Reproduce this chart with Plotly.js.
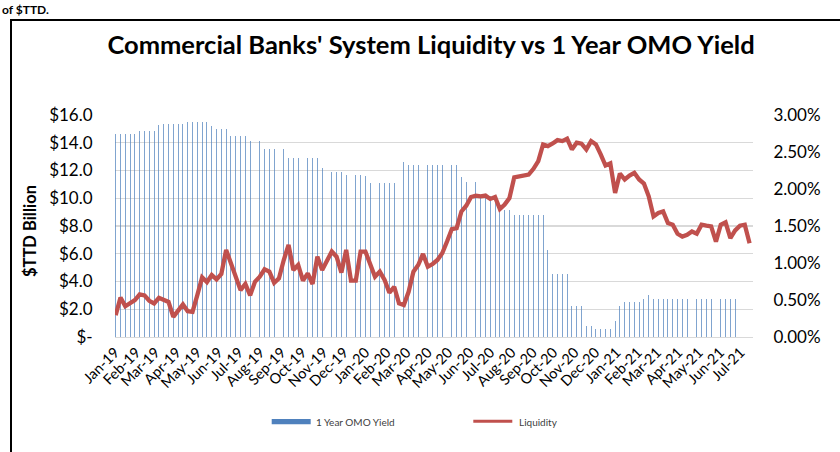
<!DOCTYPE html>
<html>
<head>
<meta charset="utf-8">
<script src="https://cdn.plot.ly/plotly-3.0.1.min.js"></script>
<style>html,body{margin:0;padding:0;background:#fff;}#chart{width:840px;height:452px;}</style>
</head>
<body>
<div id="chart"></div>
<script>
// ---- Data (weekly observations, first week 2019-01-02) ----
const firstWeek = '2019-01-02';

// 1 Year OMO Yield (%), right axis
const omoYield = [
  2.75,2.75,2.75,2.75,2.75, 2.78,2.78,2.78,2.78, 2.86,
  2.88,2.88,2.88,2.88,2.88, 2.90,2.90,2.90,2.90,2.90,
  2.85,2.81,2.81,2.81, 2.71,2.71,2.71,2.71, 2.65,2.65,
  2.65,2.54,2.54,2.54,2.54,2.54, 2.42,2.42,2.42,2.42,
  2.42,2.42,2.42, 2.29,2.29, 2.23,2.23,2.23, 2.19,2.19,
  2.19,2.19, 2.17, 2.08,2.08,2.08,2.08,2.08,2.08, 2.26,
  2.36, 2.32,2.32,2.32,2.32,2.32,2.32,2.32,2.32,2.32,
  2.32,2.32, 2.16, 2.09,2.09,2.09, 1.90,1.90,1.90,1.90,
  1.72,1.72,1.72, 1.65,1.65,1.65,1.65,1.65,1.65,1.65,
  1.18, 0.85,0.85,0.85,0.85, 0.42,0.42,0.42, 0.15,0.15,
  0.11,0.11,0.11,0.11, 0.21, 0.42, 0.47,0.47,0.47,0.47,
  0.52, 0.57, 0.52,0.52,0.52,0.52,0.52,0.52,0.52,0.52,
  0.52,0.52,0.51,0.51,0.52,0.52,0.52,0.51,0.52,0.52,
  0.52
];

// Commercial banks' system liquidity ($TTD billion), left axis
const liquidity = [
  1.57,2.85,2.22,2.46,2.66,3.07,3.00,2.61,2.42,2.82,
  2.66,2.53,1.45,1.86,2.35,1.86,1.81,3.02,4.30,3.96,
  4.47,4.15,4.54,6.28,5.31,4.23,3.38,3.82,3.00,3.98,
  4.34,4.88,4.71,3.91,4.23,5.55,6.64,4.83,5.19,4.06,
  4.59,3.82,5.79,4.83,5.55,6.16,5.79,4.64,6.28,4.06,
  4.06,6.16,6.16,5.31,4.34,4.71,4.11,3.19,3.62,2.42,
  2.30,3.26,4.71,5.19,5.99,5.07,5.26,5.55,6.04,6.88,
  7.78,7.85,9.05,9.46,10.09,10.19,10.14,10.19,9.95,10.09,
  9.22,9.54,10.02,11.51,11.59,11.64,11.71,12.12,12.67,13.88,
  13.76,13.95,14.19,14.12,14.29,13.52,14.00,13.93,13.52,14.12,
  13.88,13.16,12.36,12.51,10.38,11.78,11.35,11.64,11.83,11.35,
  11.06,10.14,8.69,8.94,9.05,8.21,8.09,7.44,7.24,7.36,
  7.60,7.44,8.09,8.02,7.97,6.88,8.09,8.26,7.13,7.68,
  8.02,8.09,6.76
];

const leftTickVals = [0,2,4,6,8,10,12,14,16];
const leftTickText = ['$-','$2.0','$4.0','$6.0','$8.0','$10.0','$12.0','$14.0','$16.0'];
const rightTickVals = [0,0.5,1,1.5,2,2.5,3];
const rightTickText = ['0.00%','0.50%','1.00%','1.50%','2.00%','2.50%','3.00%'];

const seriesNames = ['1 Year OMO Yield','Liquidity'];
const chartTitle = "Commercial Banks' System Liquidity vs 1 Year OMO Yield";
const leftAxisTitle = '$TTD Billion';
const topFragment = 'of $TTD.';

// ---- build weekly dates ----
function weeklyDates(start, n){
  const out = [];
  const d0 = new Date(start + 'T00:00:00Z');
  for (let i = 0; i < n; i++){
    const d = new Date(d0.getTime() + i*7*86400000);
    out.push(d.toISOString().slice(0,10));
  }
  return out;
}
const weeks = weeklyDates(firstWeek, liquidity.length);
const omoWeeks = weeks.slice(0, omoYield.length);

const FONT = 'Lato, "Open Sans", "DejaVu Sans", sans-serif';
const DAY = 86400000;

const barTrace = {
  type:'bar', name: seriesNames[0], x: omoWeeks, y: omoYield,
  yaxis:'y', width: 1.3*DAY,
  marker:{color:'rgba(79,129,189,0.72)', line:{width:0}},
  showlegend:false, hoverinfo:'x+y'
};
const lineTrace = {
  type:'scatter', mode:'lines', name: seriesNames[1], x: weeks, y: liquidity,
  yaxis:'y2', line:{color:'#c0504d', width:4.3},
  showlegend:false
};

// paper-coordinate helpers for legend / frame (plot area 115..753 x 115..337)
const L=115, R=753, T=115, B=337;
const px = v => (v-L)/(R-L);
const py = v => (B-v)/(B-T);

const layout = {
  width:840, height:452,
  margin:{l:L, r:840-R, t:T, b:452-B, pad:0},
  paper_bgcolor:'#fff', plot_bgcolor:'#fff',
  font:{family:FONT, color:'#000'},
  title:{text:chartTitle, font:{family:FONT, size:25.5, color:'#000', weight:700},
         x:431/840, xanchor:'center', y:1-45/452, yanchor:'middle', xref:'container'},
  bargap:0,
  xaxis:{type:'date', range:['2019-01-01','2021-07-19'], dtick:'M1', tick0:'2019-01-01',
         tickformat:'%b-%y', tickangle:-45, tickfont:{size:14.5, color:'#000'},
         showgrid:false, showline:true, linecolor:'#d9d9d9', linewidth:1.3,
         ticks:'', zeroline:false, fixedrange:true},
  yaxis:{side:'right', range:[0,3], tickvals:rightTickVals, ticktext:rightTickText,
         showgrid:false, zeroline:false, ticks:'outside', ticklen:16, tickcolor:'rgba(0,0,0,0)',
         tickfont:{size:17, color:'#000'}, fixedrange:true},
  yaxis2:{overlaying:'y', side:'left', range:[0,16], tickvals:leftTickVals, ticktext:leftTickText,
         showgrid:true, gridcolor:'#d9d9d9', gridwidth:1.3, zeroline:false,
         ticks:'outside', ticklen:18, tickcolor:'rgba(0,0,0,0)',
         tickfont:{size:17, color:'#000'}, fixedrange:true},
  shapes:[
    {type:'rect', xref:'paper', yref:'paper', x0:px(11), x1:px(860), y0:py(480), y1:py(20),
     line:{color:'#000', width:2}, fillcolor:'rgba(0,0,0,0)', layer:'below'},
    {type:'rect', xref:'paper', yref:'paper', x0:px(271.7), x1:px(310.7), y0:py(424.3), y1:py(419),
     line:{width:0}, fillcolor:'#4f81bd'},
    {type:'line', xref:'paper', yref:'paper', x0:px(473.3), x1:px(512.3), y0:py(421.3), y1:py(421.3),
     line:{color:'#c0504d', width:3}}
  ],
  annotations:[
    {text:leftAxisTitle, xref:'paper', yref:'paper', x:px(30), y:py(231), textangle:-90,
     showarrow:false, font:{family:FONT, size:16.5, color:'#000', weight:700}, xanchor:'center', yanchor:'middle'},
    {text:seriesNames[0], xref:'paper', yref:'paper', x:px(314), y:py(421.7), xanchor:'left', yanchor:'middle',
     showarrow:false, font:{family:FONT, size:10, color:'#404040'}},
    {text:seriesNames[1], xref:'paper', yref:'paper', x:px(516.7), y:py(421.7), xanchor:'left', yanchor:'middle',
     showarrow:false, font:{family:FONT, size:10, color:'#404040'}},
    {text:topFragment, xref:'paper', yref:'paper', x:px(1), y:py(1), xanchor:'left', yanchor:'top',
     showarrow:false, borderpad:0, font:{family:FONT, size:12, color:'#000', weight:700}}
  ]
};

Plotly.newPlot('chart', [barTrace, lineTrace], layout, {displayModeBar:false, staticPlot:true});
</script>
</body>
</html>
